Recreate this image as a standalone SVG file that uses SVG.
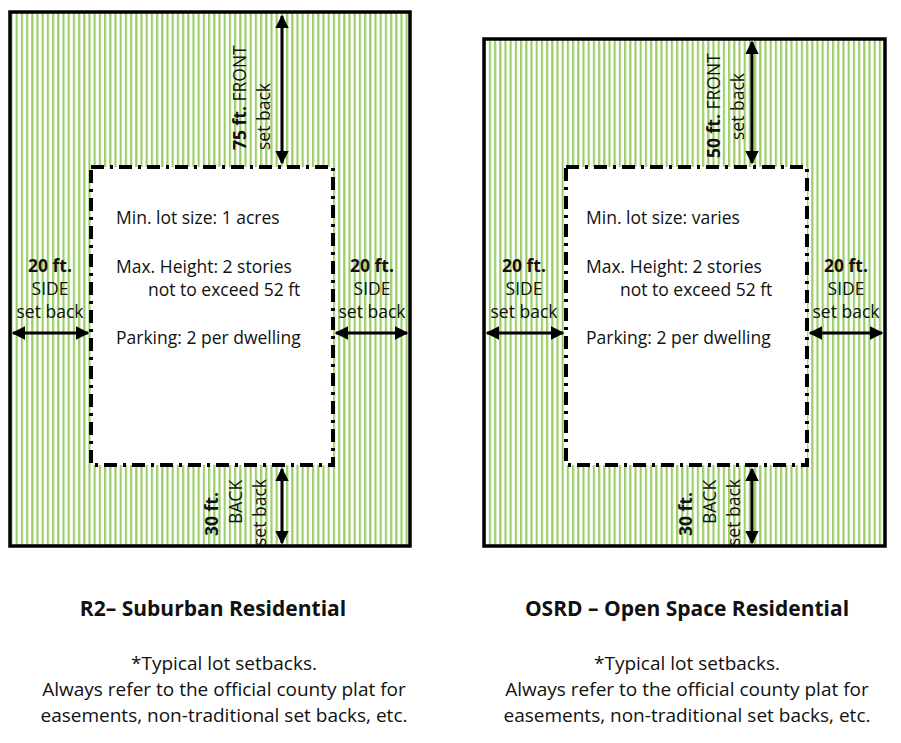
<svg xmlns="http://www.w3.org/2000/svg" width="901" height="743" viewBox="0 0 901 743">
<style>
text{font-family:"Open Sans","Liberation Sans",sans-serif;fill:#111}
.t{font-size:17.5px}
.b{font-weight:bold}
.lot{fill:url(#stripes);stroke:#000;stroke-width:3.5}
.bld{fill:#fff;stroke:#000;stroke-width:4;stroke-dasharray:13 6 3 6}
.arr{stroke:#000;stroke-width:3;marker-start:url(#ah);marker-end:url(#ah)}
.cap{font-size:21px;font-weight:bold;text-anchor:middle}
.note{font-size:19px;text-anchor:middle}
</style>
<defs>
<pattern id="stripes" width="5.2" height="10" patternUnits="userSpaceOnUse">
<rect width="5.2" height="10" fill="#fff"/>
<rect x="0" width="2.2" height="10" fill="#9ccf6a"/>
</pattern>
<marker id="ah" viewBox="0 0 10 10" refX="9" refY="5" markerWidth="4.5" markerHeight="4.5" orient="auto-start-reverse">
<path d="M0,0L10,5L0,10z" fill="#000"/>
</marker>
</defs>
<g id="lot-r2">
<rect class="lot" x="10" y="12" width="400" height="534"/>
<rect class="bld" x="91" y="167" width="242" height="298"/>
<text class="t" x="116" y="224">Min. lot size: 1 acres</text>
<text class="t" x="116" y="273">Max. Height: 2 stories</text>
<text class="t" x="148" y="296">not to exceed 52 ft</text>
<text class="t" x="116" y="344">Parking: 2 per dwelling</text>
<text class="t b" x="50" y="272" text-anchor="middle">20 ft.</text>
<text class="t" x="50" y="295" text-anchor="middle">SIDE</text>
<text class="t" x="50" y="318" text-anchor="middle">set back</text>
<text class="t b" x="372" y="272" text-anchor="middle">20 ft.</text>
<text class="t" x="372" y="295" text-anchor="middle">SIDE</text>
<text class="t" x="372" y="318" text-anchor="middle">set back</text>
<text class="t" transform="translate(246,150) rotate(-90)"><tspan class="b">75 ft.</tspan> FRONT</text>
<text class="t" transform="translate(270,150) rotate(-90)">set back</text>
<text class="t" transform="translate(218,536) rotate(-90)"><tspan class="b">30 ft.</tspan></text>
<text class="t" transform="translate(242,524) rotate(-90)">BACK</text>
<text class="t" transform="translate(266,546) rotate(-90)">set back</text>
</g>
<g id="lot-osrd">
<rect class="lot" x="484" y="39" width="401" height="507"/>
<rect class="bld" x="566" y="167" width="241" height="298"/>
<text class="t" x="586" y="224">Min. lot size: varies</text>
<text class="t" x="586" y="273">Max. Height: 2 stories</text>
<text class="t" x="620" y="296">not to exceed 52 ft</text>
<text class="t" x="586" y="344">Parking: 2 per dwelling</text>
<text class="t b" x="524" y="272" text-anchor="middle">20 ft.</text>
<text class="t" x="524" y="295" text-anchor="middle">SIDE</text>
<text class="t" x="524" y="318" text-anchor="middle">set back</text>
<text class="t b" x="846" y="272" text-anchor="middle">20 ft.</text>
<text class="t" x="846" y="295" text-anchor="middle">SIDE</text>
<text class="t" x="846" y="318" text-anchor="middle">set back</text>
<text class="t" transform="translate(720,158) rotate(-90)"><tspan class="b">50 ft.</tspan> FRONT</text>
<text class="t" transform="translate(744,140) rotate(-90)">set back</text>
<text class="t" transform="translate(692,536) rotate(-90)"><tspan class="b">30 ft.</tspan></text>
<text class="t" transform="translate(716,524) rotate(-90)">BACK</text>
<text class="t" transform="translate(740,546) rotate(-90)">set back</text>
</g>
<g id="connectors">
<line class="arr" x1="282" y1="16" x2="282" y2="163"/>
<line class="arr" x1="282" y1="469" x2="282" y2="543"/>
<line class="arr" x1="13" y1="333" x2="88" y2="333"/>
<line class="arr" x1="336" y1="333" x2="407" y2="333"/>
<line class="arr" x1="752" y1="42" x2="752" y2="163"/>
<line class="arr" x1="752" y1="469" x2="752" y2="543"/>
<line class="arr" x1="487" y1="333" x2="563" y2="333"/>
<line class="arr" x1="810" y1="333" x2="882" y2="333"/>
</g>
<g id="captions">
<text class="cap" x="213" y="616">R2– Suburban Residential</text>
<text class="note" x="224" y="670">*Typical lot setbacks.</text>
<text class="note" x="224" y="696">Always refer to the official county plat for</text>
<text class="note" x="224" y="722">easements, non-traditional set backs, etc.</text>
<text class="cap" x="687" y="616">OSRD – Open Space Residential</text>
<text class="note" x="687" y="670">*Typical lot setbacks.</text>
<text class="note" x="687" y="696">Always refer to the official county plat for</text>
<text class="note" x="687" y="722">easements, non-traditional set backs, etc.</text>
</g>
</svg>
